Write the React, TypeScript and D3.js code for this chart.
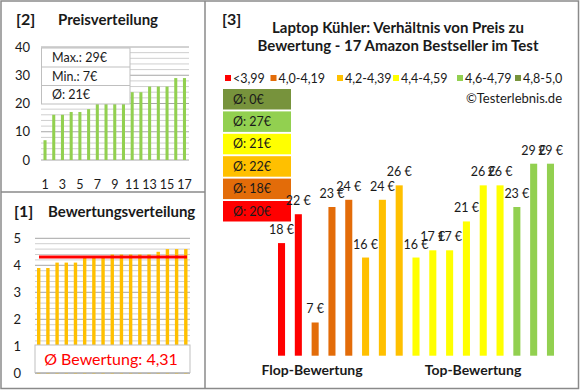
import React from "react";
import * as d3 from "d3";

// Produkte sortiert nach Bewertung (Flop -> Top)
const ratings = [3.9, 3.9, 4.1, 4.1, 4.1, 4.3, 4.3, 4.3, 4.4, 4.4, 4.4, 4.4, 4.4, 4.5, 4.6, 4.6, 4.6];
const prices = [18, 22, 7, 23, 24, 16, 24, 26, 16, 17, 17, 21, 26, 26, 23, 29, 29];

const classLabels = ["<3,99", "4,0-4,19", "4,2-4,39", "4,4-4,59", "4,6-4,79", "4,8-5,0"];
const classLimits = [4.0, 4.2, 4.4, 4.6, 4.8];
const classColors = ["#FF0000", "#E36C09", "#FFC000", "#FFFF00", "#92D050", "#77933C"];

const priceTicks = [0, 10, 20, 30, 40];
const ratingTicks = [0, 1, 2, 3, 4, 5];
const xTickLabels = [1, 3, 5, 7, 9, 11, 13, 15, 17];

const FONT = "Lato, 'Open Sans', sans-serif";
const TXT = "#1a1a1a";
const BORDER = "#8a8a8a";

const classOf = (r: number) => d3.bisectRight(classLimits, r);

const App: React.FC = () => {
  const idx = d3.range(prices.length);
  const sortedPrices = [...prices].sort((a, b) => a - b);
  const avgPrice = Math.round(d3.mean(prices) || 0);
  const avgRating = d3.mean(ratings) || 0;

  // ---- Panel [2] Preisverteilung
  const pY = d3.scaleLinear().domain([0, 40]).range([160, 47]);
  const pX = d3.scaleBand<number>().domain(idx).range([43.5, 186]).paddingInner(0.65);
  const pGrid = d3.range(0, 41, 2);

  // ---- Panel [1] Bewertungsverteilung
  const rY = d3.scaleLinear().domain([0, 5]).range([373.3, 238.3]);
  const rX = d3.scaleBand<number>().domain(idx).range([37, 187.5]).paddingInner(0.63);
  const rGrid = d3.range(0, 26).map((i) => i * 0.2);

  // ---- Panel [3] Preis zu Bewertung
  const mY = d3.scaleLinear().domain([2.4, 29]).range([355.7, 163.7]);
  const mX = d3.scaleBand<number>().domain(idx).range([278, 554]).paddingInner(0.58);

  const legendX = [225, 270.5, 337, 393, 457, 515];
  const classAvg = classColors.map((_, c) => {
    const vals = prices.filter((_, i) => classOf(ratings[i]) === c);
    return vals.length ? Math.round(d3.mean(vals) || 0) : 0;
  });
  const boxOrder = [5, 4, 3, 2, 1, 0];
  const boxY = d3.scaleLinear().domain([0, 5]).range([89, 201]);

  return (
    <div style={{ position: "fixed", left: 0, top: 0 }}>
      <svg width={580} height={390} style={{ display: "block", fontFamily: FONT }}>
        <rect x={0} y={0} width={580} height={390} fill="#fff" />

        {/* Panel [2] */}
        <text x={16} y={25} fontSize={16} fontWeight="bold" fill={TXT}>[2]</text>
        <text x={58} y={25} fontSize={15} fontWeight="bold" fill={TXT}>Preisverteilung</text>
        {pGrid.map((g) => (
          <line key={g} x1={41} x2={189} y1={pY(g)} y2={pY(g)}
            stroke={g % 10 === 0 ? "#a6a6a6" : "#cfcfcf"} strokeWidth={1} />
        ))}
        {sortedPrices.map((v, i) => (
          <rect key={i} x={pX(i)} y={pY(v)} width={pX.bandwidth()} height={pY(0) - pY(v)} fill="#92D050" />
        ))}
        {priceTicks.map((t) => (
          <text key={t} x={30} y={pY(t) + 4.5} fontSize={13} textAnchor="end" fill={TXT}>{t}</text>
        ))}
        {xTickLabels.map((t) => (
          <text key={t} x={(pX(t - 1) || 0) + pX.bandwidth() / 2} y={189} fontSize={12.5} textAnchor="middle" fill={TXT}>{t}</text>
        ))}
        <g>
          <rect x={41.5} y={48} width={88.5} height={56} fill="#fff" stroke="#bfbfbf" />
          <line x1={41.5} x2={130} y1={67} y2={67} stroke="#bfbfbf" />
          <line x1={41.5} x2={130} y1={85.5} y2={85.5} stroke="#bfbfbf" />
          <text x={52} y={62} fontSize={12.5} fill={TXT}>Max.: {d3.max(prices)}€</text>
          <text x={52} y={80.5} fontSize={12.5} fill={TXT}>Min.: {d3.min(prices)}€</text>
          <text x={52} y={99} fontSize={12.5} fill={TXT}>Ø: {avgPrice}€</text>
        </g>

        {/* Panel [1] */}
        <text x={14} y={217} fontSize={16} fontWeight="bold" fill={TXT}>[1]</text>
        <text x={48} y={217} fontSize={15} fontWeight="bold" fill={TXT}>Bewertungsverteilung</text>
        {rGrid.map((g, i) => (
          <line key={i} x1={35} x2={190} y1={rY(g)} y2={rY(g)}
            stroke={i % 5 === 0 ? "#a6a6a6" : "#cfcfcf"} strokeWidth={1} />
        ))}
        {ratings.map((v, i) => (
          <rect key={i} x={rX(i)} y={rY(v)} width={rX.bandwidth()} height={rY(0) - rY(v)} fill="#FFC000" />
        ))}
        <line x1={39} x2={187} y1={rY(avgRating)} y2={rY(avgRating)} stroke="#FF0000" strokeWidth={3} />
        {ratingTicks.map((t) => (
          <text key={t} x={21} y={rY(t) + 4.5} fontSize={13} textAnchor="end" fill={TXT}>{t}</text>
        ))}
        <rect x={35} y={345} width={155} height={27.5} fill="#fff" stroke="#bfbfbf" />
        <text x={111} y={365} fontSize={16} textAnchor="middle" fill="#FF0000">
          Ø Bewertung: {avgRating.toFixed(2).replace(".", ",")}
        </text>

        {/* Panel [3] */}
        <text x={222} y={25} fontSize={16} fontWeight="bold" fill={TXT}>[3]</text>
        <text x={398} y={33} fontSize={15} fontWeight="bold" textAnchor="middle" fill={TXT}>
          Laptop Kühler: Verhältnis von Preis zu
        </text>
        <text x={398} y={51} fontSize={15} fontWeight="bold" textAnchor="middle" fill={TXT}>
          Bewertung - 17 Amazon Bestseller im Test
        </text>
        {classLabels.map((l, c) => (
          <g key={l}>
            <rect x={legendX[c]} y={75} width={6} height={6} fill={classColors[c]} />
            <text x={legendX[c] + 8} y={82.5} fontSize={12.5} fill={TXT}>{l}</text>
          </g>
        ))}
        <text x={562} y={103} fontSize={13} textAnchor="end" fill={TXT}>©Testerlebnis.de</text>
        {boxOrder.map((c, k) => (
          <g key={c}>
            <rect x={223} y={boxY(k)} width={68} height={20.5} fill={classColors[c]} />
            <text x={233} y={boxY(k) + 14.5} fontSize={12.5} fill={TXT}>Ø: {classAvg[c]}€</text>
          </g>
        ))}
        {prices.map((v, i) => (
          <g key={i}>
            <rect x={mX(i)} y={mY(v)} width={mX.bandwidth()} height={mY.range()[0] - mY(v)}
              fill={classColors[classOf(ratings[i])]} />
            <text x={(mX(i) || 0) + mX.bandwidth() / 2} y={mY(v) - 9} fontSize={12.5}
              textAnchor="middle" fill={TXT}>{v} €</text>
          </g>
        ))}
        <text x={312} y={375} fontSize={14} fontWeight="bold" textAnchor="middle" fill={TXT}>Flop-Bewertung</text>
        <text x={473} y={375} fontSize={14} fontWeight="bold" textAnchor="middle" fill={TXT}>Top-Bewertung</text>

        {/* Rahmen */}
        <rect x={1} y={1} width={577.5} height={387.5} fill="none" stroke={BORDER} strokeWidth={1.5} />
        <line x1={205} x2={205} y1={1} y2={389} stroke={BORDER} strokeWidth={1.5} />
        <line x1={1} x2={205} y1={192} y2={192} stroke={BORDER} strokeWidth={1.5} />
      </svg>
    </div>
  );
};

export default App;
